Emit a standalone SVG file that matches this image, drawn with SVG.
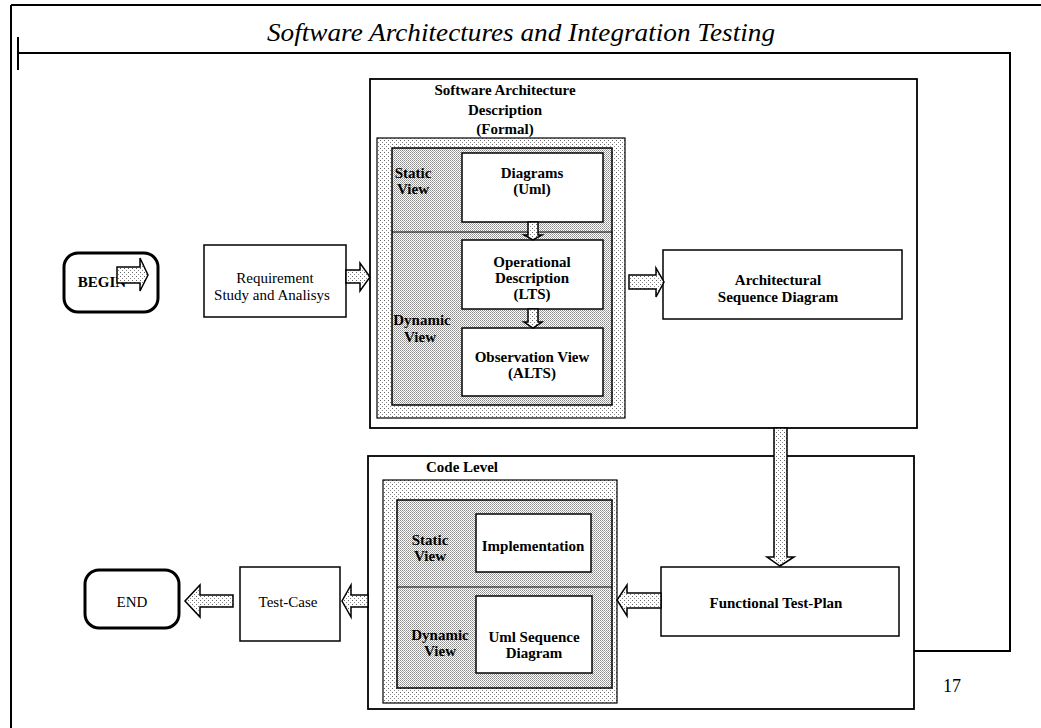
<svg xmlns="http://www.w3.org/2000/svg" width="1041" height="728" viewBox="0 0 1041 728">
<defs>
<pattern id="lt" width="4" height="4" patternUnits="userSpaceOnUse"><rect width="4" height="4" fill="#fff"/><rect x="0" y="0" width="1" height="1" fill="#666"/><rect x="2" y="2" width="1" height="1" fill="#888"/></pattern>
<pattern id="dk" width="2" height="2" patternUnits="userSpaceOnUse"><rect width="2" height="2" fill="#fff"/><rect x="0" y="0" width="1" height="1" fill="#8a8a8a"/><rect x="1" y="1" width="1" height="1" fill="#a8a8a8"/></pattern>
<style>
.ln{stroke:#000;stroke-width:2;fill:none}
.bx{fill:#fff;stroke:#000;stroke-width:1.5}
.ob{fill:#fff;stroke:#000;stroke-width:1.8}
.lb{fill:url(#lt);stroke:#000;stroke-width:1.2}
.db{fill:url(#dk);stroke:#000;stroke-width:1.5}
.ar{fill:url(#lt);stroke:#000;stroke-width:1.5;stroke-linejoin:miter}
.rr{fill:#fff;stroke:#000;stroke-width:3}
text{font-family:"Liberation Serif","Times New Roman",serif;font-size:15px;fill:#000;text-anchor:middle}
.b{font-weight:bold}
</style>
</defs>
<rect width="1041" height="728" fill="#fff"/>
<g id="frame">
<path class="ln" d="M11,5 H1041 M11,5 V728"/>
<path class="ln" d="M18,37 V70 M18,53 H1010 V651 H914"/>
<text x="521" y="41" font-style="italic" textLength="508" lengthAdjust="spacingAndGlyphs" style="font-size:26px">Software Architectures and Integration Testing</text>
<text x="952" y="692" style="font-size:18px">17</text>
</g>
<g id="sad">
<rect class="ob" x="370" y="79" width="547" height="349"/>
<text class="b" x="505" y="95">Software Architecture</text>
<text class="b" x="505" y="115">Description</text>
<text class="b" x="505" y="134">(Formal)</text>
<rect class="lb" x="377" y="138" width="248" height="280"/>
<rect class="db" x="392" y="148" width="220" height="257"/>
<line x1="392" y1="232" x2="612" y2="232" stroke="#000" stroke-width="1"/>
<text class="b" x="413" y="178">Static</text>
<text class="b" x="413" y="194">View</text>
<text class="b" x="422" y="325">Dynamic</text>
<text class="b" x="420" y="342">View</text>
</g>
<g id="diagrams">
<rect class="bx" x="462" y="153" width="141" height="69"/>
<text class="b" x="532" y="178">Diagrams</text>
<text class="b" x="532" y="194">(Uml)</text>
</g>
<g id="operational">
<rect class="bx" x="462" y="240" width="141" height="69"/>
<text class="b" x="532" y="267">Operational</text>
<text class="b" x="532" y="283">Description</text>
<text class="b" x="532" y="299">(LTS)</text>
</g>
<g id="observation">
<rect class="bx" x="462" y="328" width="141" height="68"/>
<text class="b" x="532" y="362">Observation View</text>
<text class="b" x="532" y="378">(ALTS)</text>
</g>
<g id="begin">
<rect class="rr" x="64" y="253" width="94" height="59" rx="14"/>
<text class="b" x="102" y="287">BEGIN</text>
</g>
<g id="requirement">
<rect class="bx" x="204" y="245" width="142" height="72"/>
<text x="275" y="283">Requirement</text>
<text x="272" y="300">Study and Analisys</text>
</g>
<g id="asd">
<rect class="bx" x="663" y="250" width="239" height="69"/>
<text class="b" x="778" y="285">Architectural</text>
<text class="b" x="778" y="302">Sequence Diagram</text>
</g>
<g id="codelevel">
<rect class="ob" x="368" y="456" width="546" height="253"/>
<text class="b" x="462" y="472">Code Level</text>
<rect class="lb" x="383" y="480" width="234" height="223"/>
<rect class="db" x="397" y="500" width="215" height="188"/>
<line x1="397" y1="587" x2="612" y2="587" stroke="#000" stroke-width="1"/>
<text class="b" x="430" y="545">Static</text>
<text class="b" x="430" y="561">View</text>
<text class="b" x="440" y="640">Dynamic</text>
<text class="b" x="440" y="656">View</text>
</g>
<g id="implementation">
<rect class="bx" x="476" y="514" width="115" height="58"/>
<text class="b" x="533" y="551">Implementation</text>
</g>
<g id="umlseq">
<rect class="bx" x="476" y="596" width="116" height="77"/>
<text class="b" x="534" y="642">Uml Sequence</text>
<text class="b" x="534" y="658">Diagram</text>
</g>
<g id="functional">
<rect class="bx" x="661" y="567" width="238" height="69"/>
<text class="b" x="776" y="608">Functional Test-Plan</text>
</g>
<g id="testcase">
<rect class="bx" x="240" y="567" width="100" height="74"/>
<text x="288" y="607">Test-Case</text>
</g>
<g id="end">
<rect class="rr" x="85" y="570" width="94" height="58" rx="14"/>
<text x="132" y="607">END</text>
</g>
<g id="connectors">
<polygon class="ar" points="117,267 140,267 140,258 148,275 140,291 140,283 117,283"/>
<polygon class="ar" points="346,270 360,270 360,263 370,277 360,291 360,283 346,283"/>
<polygon class="ar" points="629,275 656,275 656,268 664,282 656,297 656,289 629,289"/>
<polygon class="ar" points="528,222 538,222 538,235 542,235 533,240 524,235 528,235"/>
<polygon class="ar" points="528,309 538,309 538,322 542,322 533,328 524,322 528,322"/>
<polygon class="ar" points="774,428 787,428 787,557 794,557 780,566 767,557 774,557"/>
<polygon class="ar" points="661,593 627,593 627,585 617,600 627,616 627,608 661,608"/>
<polygon class="ar" points="368,595 351,595 351,585 342,601 351,617 351,607 368,607"/>
<polygon class="ar" points="233,595 200,595 200,585 185,601 200,617 200,607 233,607"/>
</g>
</svg>
